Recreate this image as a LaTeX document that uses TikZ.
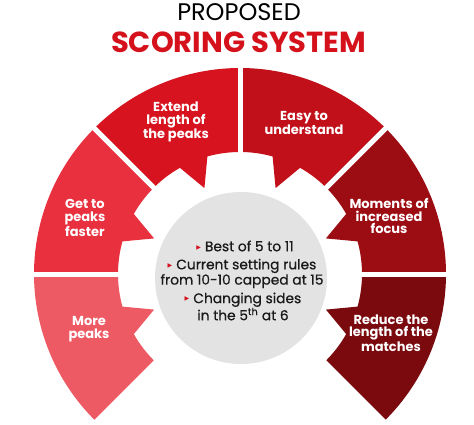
\documentclass[tikz,border=0pt]{standalone}
\usepackage{fontspec}
\setmainfont{Poppins}
\newfontfamily\medfont{Poppins}[FakeBold=0.6]
\newfontfamily\symfont{DejaVu Sans}
\definecolor{segA}{HTML}{EE5A64}
\definecolor{segB}{HTML}{E8303E}
\definecolor{segC}{HTML}{D6131E}
\definecolor{segD}{HTML}{C1101A}
\definecolor{segE}{HTML}{9C0C13}
\definecolor{segF}{HTML}{7A0A0E}
\definecolor{titlered}{HTML}{D5121C}
\definecolor{coregray}{HTML}{E3E3E3}
\definecolor{inktext}{HTML}{1A1A1A}
\newcommand\ringseg[3]{%
  \fill[#3] (#1:206) arc[start angle=#1, end angle=#2, radius=206]
    -- (#2:122) arc[start angle=#2, end angle={(#1+#2)/2+7}, radius=122]
    -- ({(#1+#2)/2}:93) -- ({(#1+#2)/2-7}:122)
    arc[start angle={(#1+#2)/2-7}, end angle=#1, radius=122] -- cycle;}
\newcommand\bul{\raisebox{2.2pt}{\symfont\fontsize{6}{6}\selectfont\textcolor{titlered}{▶}}\hspace{4pt}}
\tikzset{
  seglabel/.style={text=white, font=\bfseries\fontsize{13}{12.5}\selectfont, align=center, inner sep=0},
  corelabel/.style={text=inktext, font=\medfont\fontsize{13.8}{13.2}\selectfont, align=center, inner sep=0},
  gapline/.style={white, line width=5}
}
\begin{document}
\begin{tikzpicture}[x=1pt,y=1pt]
\useasboundingbox (0,0) rectangle (474,424);
\fill[white] (0,0) rectangle (474,424);
\begin{scope}[shift={(240,150)}]
  \ringseg{180}{225}{segA}
  \ringseg{135}{180}{segB}
  \ringseg{90}{135}{segC}
  \ringseg{45}{90}{segD}
  \ringseg{0}{45}{segE}
  \ringseg{-45}{0}{segF}
  \foreach \a in {0,45,90,135,180}
    \draw[gapline] (\a:110) -- (\a:215);
\end{scope}
\node[circle, fill=coregray, minimum size=172, inner sep=0] (core) at (241,146) {};
\node (t1) at (239,411.5) {\fontsize{24}{24}\selectfont PROPOSED};
\node[text=titlered] (t2) at (238.5,381.5) {\bfseries\fontsize{29}{29}\selectfont SCORING SYSTEM};
\node[seglabel] (extend) at (176,302) {Extend\\length of\\the peaks};
\node[seglabel] (easy) at (304,301) {Easy to\\understand};
\node[seglabel] (faster) at (85,206) {Get to\\peaks\\faster};
\node[seglabel] (more) at (89,95) {More\\peaks};
\node[seglabel] (focus) at (389,208) {Moments of\\increased\\focus};
\node[seglabel] (reduce) at (391,91) {Reduce the\\length of the\\matches};
\node[corelabel] (best) at (245,178) {\bul Best of 5 to 11};
\node[corelabel] (rules) at (242,150.5) {\bul Current setting rules\\from 10-10 capped at 15};
\node[corelabel] (sides) at (243,117.5) {\bul Changing sides\\in the 5\textsuperscript{th} at 6};
\end{tikzpicture}
\end{document}
